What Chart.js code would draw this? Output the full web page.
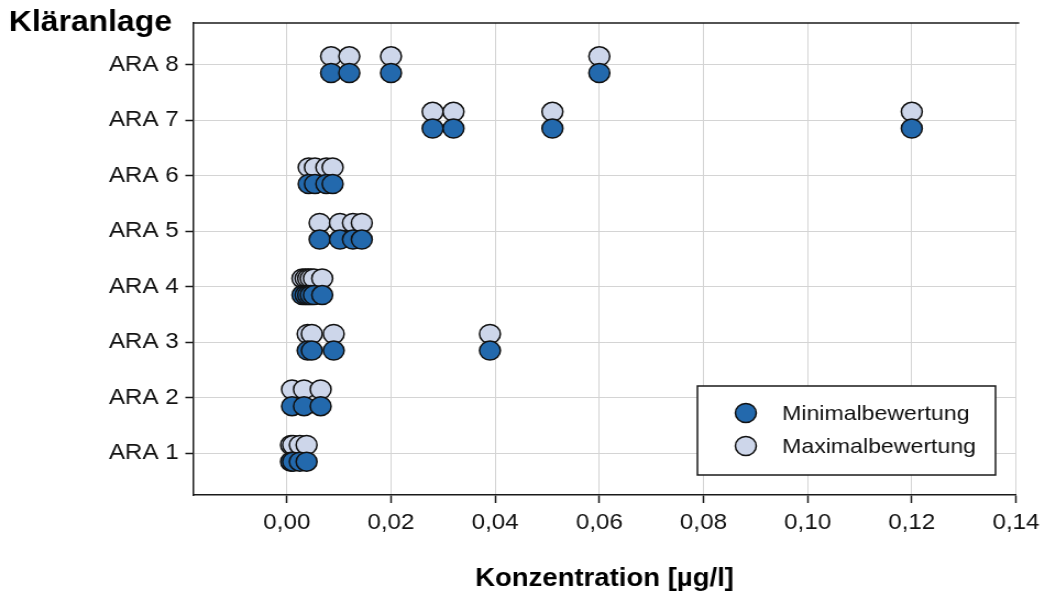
<!DOCTYPE html>
<html>
<head>
<meta charset="utf-8">
<script src="https://cdn.jsdelivr.net/npm/chart.js@4/dist/chart.umd.min.js"></script>
<style>
  html, body { margin: 0; padding: 0; background: #fff; overflow: hidden; }
  /* plot is laid out a little narrower and stretched sideways */
  #wrap { position: relative; width: 954px; height: 594px; transform: scaleX(1.1); transform-origin: 0 0; }
</style>
</head>
<body>
<div id="wrap"><canvas id="chart"></canvas></div>
<script>
// Kläranlagen und gemessene Konzentrationen (µg/l)
const plants = ['ARA 1', 'ARA 2', 'ARA 3', 'ARA 4', 'ARA 5', 'ARA 6', 'ARA 7', 'ARA 8']

const minValues = [
    [0.0008, 0.0012, 0.0025, 0.0038],
    [0.001, 0.0033, 0.0065],
    [0.004, 0.0048, 0.009, 0.039],
    [0.003, 0.0036, 0.0041, 0.0046, 0.0052, 0.0068],
    [0.0063, 0.0102, 0.0127, 0.0144],
    [0.0042, 0.0054, 0.0076, 0.0088],
    [0.028, 0.032, 0.051, 0.12],
    [0.0085, 0.012, 0.020, 0.060],
]

const maxValues = [
    [0.0008, 0.0012, 0.0025, 0.0038],
    [0.001, 0.0033, 0.0065],
    [0.004, 0.0048, 0.009, 0.039],
    [0.003, 0.0036, 0.0041, 0.0046, 0.0052, 0.0068],
    [0.0063, 0.0102, 0.0127, 0.0144],
    [0.0042, 0.0054, 0.0076, 0.0088],
    [0.028, 0.032, 0.051, 0.12],
    [0.0085, 0.012, 0.020, 0.060],
]

const xTicks = [0, 0.02, 0.04, 0.06, 0.08, 0.10, 0.12, 0.14]

const FONT = "'Liberation Sans', Arial, sans-serif"
const ROW_SHIFT = 0.15   // min below, max above the row line

const toPoints = (rows, shift) =>
    rows.flatMap((vals, i) => vals.map(v => ({ x: v, y: i + 1 + shift })))

// draws the top frame line, the y heading and the boxed legend
const decorations = {
    id: 'decorations',
    afterDraw(chart) {
        const ctx = chart.ctx
        const area = chart.chartArea
        ctx.save()

        ctx.strokeStyle = '#1a1a1a'
        ctx.lineWidth = 1.5
        ctx.beginPath()
        ctx.moveTo(area.left, area.top)
        ctx.lineTo(area.right + 3, area.top)
        ctx.stroke()

        ctx.fillStyle = '#000'
        ctx.font = `bold 29px ${FONT}`
        ctx.textBaseline = 'alphabetic'
        ctx.textAlign = 'left'
        ctx.fillText('Kläranlage', 8, 31)

        // legend
        const box = { x: 634, y: 386, w: 271, h: 89 }
        ctx.fillStyle = '#fff'
        ctx.fillRect(box.x, box.y, box.w, box.h)
        ctx.strokeStyle = '#1a1a1a'
        ctx.lineWidth = 1.5
        ctx.strokeRect(box.x, box.y, box.w, box.h)

        chart.data.datasets.forEach((ds, i) => {
            const cy = box.y + 27 + i * 33
            ctx.beginPath()
            ctx.arc(box.x + 44, cy, 9.5, 0, Math.PI * 2)
            ctx.fillStyle = ds.backgroundColor
            ctx.fill()
            ctx.lineWidth = 1.5
            ctx.strokeStyle = ds.borderColor
            ctx.stroke()

            ctx.fillStyle = '#111'
            ctx.font = `21px ${FONT}`
            ctx.textBaseline = 'middle'
            ctx.fillText(ds.label, box.x + 77, cy + 1)
        })
        ctx.restore()
    }
}

new Chart(document.getElementById('chart'), {
    type: 'scatter',
    data: {
        datasets: [
            {
                label: 'Minimalbewertung',
                data: toPoints(minValues, -ROW_SHIFT),
                backgroundColor: '#2369ad',
                borderColor: '#111',
                borderWidth: 1.5,
                pointRadius: 9.5,
                pointHoverRadius: 9.5,
            },
            {
                label: 'Maximalbewertung',
                data: toPoints(maxValues, ROW_SHIFT),
                backgroundColor: '#cdd6ea',
                borderColor: '#111',
                borderWidth: 1.5,
                pointRadius: 9.5,
                pointHoverRadius: 9.5,
            },
        ]
    },
    options: {
        responsive: true,
        maintainAspectRatio: false,
        animation: false,
        layout: { padding: { top: 23, right: 30.4, left: 0, bottom: 0 } },
        plugins: {
            legend: { display: false },
            tooltip: { enabled: false },
        },
        scales: {
            x: {
                type: 'linear',
                min: -0.018,
                max: 0.14,
                afterBuildTicks: scale => { scale.ticks = xTicks.map(v => ({ value: v })) },
                afterFit: scale => { scale.height = 99 },
                ticks: {
                    color: '#111',
                    font: { family: FONT, size: 22 },
                    padding: 7,
                    maxRotation: 0,
                    callback: v => v.toFixed(2).replace('.', ','),
                },
                grid: { color: '#d4d4d4', lineWidth: 1, tickColor: '#1a1a1a', tickLength: 8, tickWidth: 1.5 },
                border: { color: '#1a1a1a', width: 1.5 },
                title: {
                    display: true,
                    text: 'Konzentration [µg/l]',
                    color: '#000',
                    font: { family: FONT, size: 25, weight: 'bold' },
                    padding: { top: 0, bottom: 0 },
                },
            },
            y: {
                type: 'linear',
                min: 0.25,
                max: 8.75,
                afterBuildTicks: scale => { scale.ticks = plants.map((p, i) => ({ value: i + 1 })) },
                afterFit: scale => { scale.width = 175.5 },
                ticks: {
                    color: '#111',
                    font: { family: FONT, size: 22 },
                    padding: 6,
                    callback: v => plants[v - 1],
                },
                grid: { color: '#d4d4d4', lineWidth: 1, tickColor: '#1a1a1a', tickLength: 7, tickWidth: 1.5 },
                border: { color: '#1a1a1a', width: 1.5 },
            },
        },
    },
    plugins: [decorations],
})
</script>
</body>
</html>
